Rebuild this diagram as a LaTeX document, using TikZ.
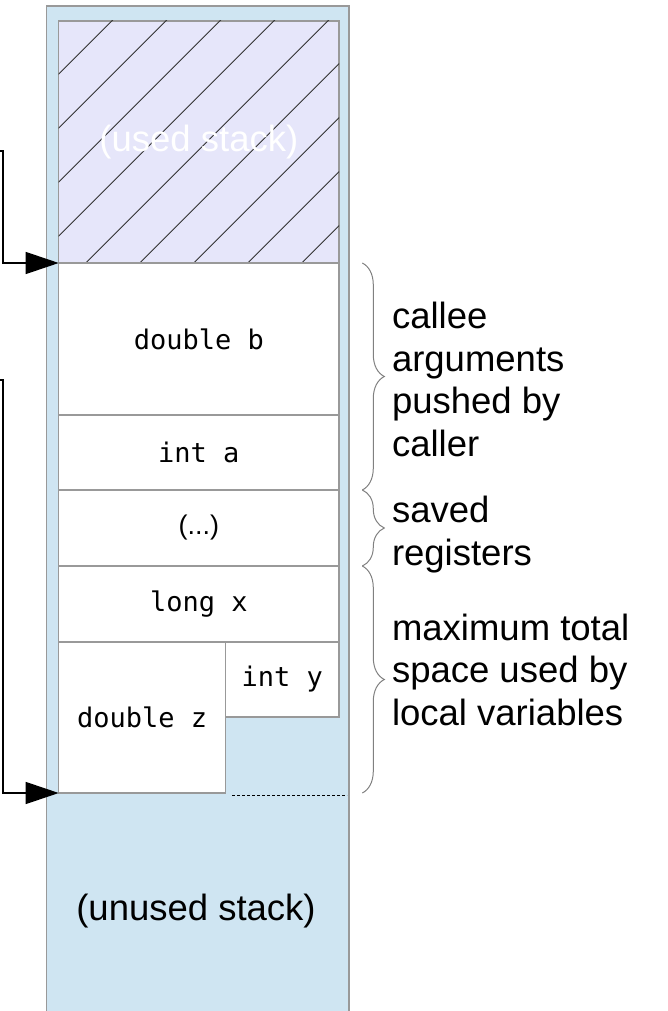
\documentclass[tikz,border=0pt]{standalone}
\usepackage{fontspec}
\setmainfont{Liberation Sans}
\setmonofont{DejaVu Sans Mono}
\usetikzlibrary{arrows.meta,decorations.pathreplacing,positioning}
\definecolor{stackblue}{RGB}{207,229,242}
\definecolor{usedfill}{RGB}{230,230,250}

\begin{document}
\begin{tikzpicture}[x=1pt,y=-1pt]
        \tikzstyle{every node}=[inner sep=0pt, outer sep=0pt]
        \tikzstyle{slot}=[draw=gray!80, fill=white, line width=1.2pt, minimum width=280.3pt, font={\fontsize{27}{32}\selectfont\ttfamily}]
        \tikzstyle{hatch}=[draw=black!80, line width=0.9pt]
        \tikzstyle{ptr}=[draw=black, line width=1.2pt, -{Triangle[length=33pt,width=22pt]}]
        \tikzstyle{brc}=[draw=gray, line width=1pt, decorate, decoration={brace, amplitude=22pt}]
        \tikzstyle{note}=[anchor=north west, align=left, font={\fontsize{36.5}{42.5}\selectfont}]
        \useasboundingbox (0,0) rectangle (667,1011);
        \node[draw=gray!80, fill=stackblue, line width=1.5pt, minimum width=302.3pt, minimum height=1015pt, anchor=north west] (stack) at (46.7,6) {};
        \node[slot, fill=usedfill, minimum height=242pt, anchor=north west] (used) at (58.7,21) {};
        \begin{scope}
            \clip (used.north west) rectangle (used.south east);
            \foreach \c in {132.7,186.7,240.7,294.7,348.7,402.7,456.7,510.7,564.7}
                \draw[hatch] (\c,0) -- (\c-300,300);
        \end{scope}
        \node[text=white, font={\fontsize{36.5}{42.5}\selectfont}] (usedtxt) at (used.center) {(used stack)};
        \node[slot, minimum height=152pt, below=0pt of used] (argb) {double b};
        \node[slot, minimum height=75pt, below=0pt of argb] (arga) {int a};
        \node[slot, minimum height=76pt, below=0pt of arga, font={\fontsize{27}{32}\selectfont\rmfamily}] (regs) {(...)};
        \node[slot, minimum height=76pt, below=0pt of regs] (varx) {long x};
        \node[slot, minimum width=167pt, minimum height=151pt, anchor=north west] (varz) at (varx.south west) {double z};
        \node[slot, minimum width=113.3pt, minimum height=75pt, anchor=north west] (vary) at (varz.north east) {int y};
        \node[font={\fontsize{36.5}{42.5}\selectfont}] (unused) at (196,911.5) {(unused stack)};
        \draw[black, line width=1pt, dash pattern=on 3pt off 2pt] (232,795) -- (347,795);
        \coordinate (spin) at (0,151);
        \coordinate (fpin) at (0,380);
        \draw[ptr] (spin) -- ++(3,0) |- (argb.north west);
        \draw[ptr] (fpin) -- ++(3,0) |- (varz.south west);
        \draw[brc] ([xshift=23.3pt]argb.north east) -- ([xshift=23.3pt]arga.south east);
        \draw[brc] ([xshift=23.3pt]regs.north east) -- ([xshift=23.3pt]regs.south east);
        \draw[brc] ([xshift=23.3pt]varx.north east) -- ([xshift=23.3pt]varx.east |- varz.south);
        \node[note] (callee) at (392,302.2) {callee\\arguments\\pushed by\\caller};
        \node[note] (saved) at (392,496.4) {saved\\registers};
        \node[note] (maxvar) at (392,614) {maximum total\\space used by\\local variables};
    \end{tikzpicture}
\end{document}
